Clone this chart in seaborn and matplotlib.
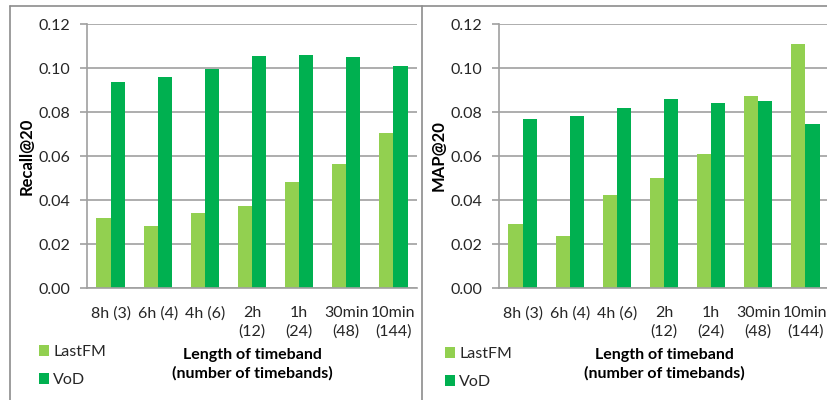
import matplotlib
matplotlib.use("Agg")
import matplotlib.pyplot as plt
from matplotlib.lines import Line2D
import numpy as np
import pandas as pd
import seaborn as sns

# values
bands = ["8h (3)", "6h (4)", "4h (6)", "2h\n(12)", "1h\n(24)", "30min\n(48)", "10min\n(144)"]
datasets = ["LastFM", "VoD"]
recall_lastfm = [0.0317, 0.0283, 0.0340, 0.0374, 0.0480, 0.0564, 0.0706]
recall_vod = [0.0938, 0.0959, 0.0995, 0.1053, 0.1058, 0.1052, 0.1008]
map_lastfm = [0.0291, 0.0236, 0.0421, 0.0499, 0.0610, 0.0874, 0.1109]
map_vod = [0.0770, 0.0780, 0.0817, 0.0859, 0.0840, 0.0849, 0.0744]

colors = ["#92D050", "#00B050"]
grid_col = "#A0A0A0"
frame_col = "#8C8C8C"
text_col = "#262626"
fs = 11.5


def long_table(a, b, name):
    return pd.DataFrame({
        "band": bands * 2,
        "dataset": [datasets[0]] * len(bands) + [datasets[1]] * len(bands),
        name: list(a) + list(b),
    })


sns.set_theme(style="white")
plt.rcParams["font.family"] = ["Lato", "DejaVu Sans"]

W, H = 827, 400
fig = plt.figure(figsize=(W / 100, H / 100), dpi=100)


def make_panel(left_px, right_px, df, col, ylabel, legend_xy):
    ax = fig.add_axes([left_px / W, (H - 288) / H, (right_px - left_px) / W, 264 / H])
    sns.barplot(data=df, x="band", y=col, hue="dataset", palette=colors,
                width=0.6, gap=0, saturation=1, linewidth=0, ax=ax)
    ax.set_ylim(0, 0.12)
    ax.set_yticks(np.arange(0, 0.121, 0.02))
    ax.set_yticklabels([f"{v:.2f}" for v in np.arange(0, 0.121, 0.02)])
    ax.set_xlim(-0.5, len(bands) - 0.5)
    ax.yaxis.grid(True, color=grid_col, linewidth=1.2)
    ax.set_axisbelow(True)
    for s in ["top", "right"]:
        ax.spines[s].set_visible(False)
    for s in ["left", "bottom"]:
        ax.spines[s].set_color(grid_col)
        ax.spines[s].set_linewidth(1.2)
    ax.tick_params(axis="y", length=5, color=grid_col, width=1.2, pad=7,
                   labelsize=fs, labelcolor=text_col, left=True)
    ax.tick_params(axis="x", length=0, pad=13, labelsize=fs, labelcolor=text_col)
    for t in ax.get_xticklabels():
        t.set_linespacing(1.35)
    ax.set_ylabel(ylabel, fontsize=fs + 0.5, fontweight="bold", color="black", labelpad=3)
    ax.set_xlabel("Length of timeband\n(number of timebands)", fontsize=fs,
                  fontweight="bold", color="black", labelpad=7, linespacing=1.35)
    handles, labels = ax.get_legend_handles_labels()
    ax.legend(handles, labels, loc="upper left", bbox_to_anchor=legend_xy,
              bbox_transform=fig.transFigure, frameon=False, fontsize=fs,
              handlelength=0.65, handleheight=0.65, handletextpad=0.25,
              labelspacing=0.9, borderaxespad=0, borderpad=0,
              labelcolor=text_col)
    return ax


make_panel(87, 417, long_table(recall_lastfm, recall_vod, "recall"), "recall",
           "Recall@20", (39 / W, (H - 345) / H))
make_panel(499, 829, long_table(map_lastfm, map_vod, "map"), "map",
           "MAP@20", (445 / W, (H - 347) / H))

# outer frames of the two chart panels
for xs, ys in [([9.5, 9.5], [0, H - 5.5]),
               ([421.7, 421.7], [0, H - 5.5]),
               ([9.5, W], [H - 5.5, H - 5.5])]:
    fig.add_artist(Line2D([x / W for x in xs], [y / H for y in ys],
                          color=frame_col, linewidth=1.2))

fig.savefig("out.png", dpi=100)
